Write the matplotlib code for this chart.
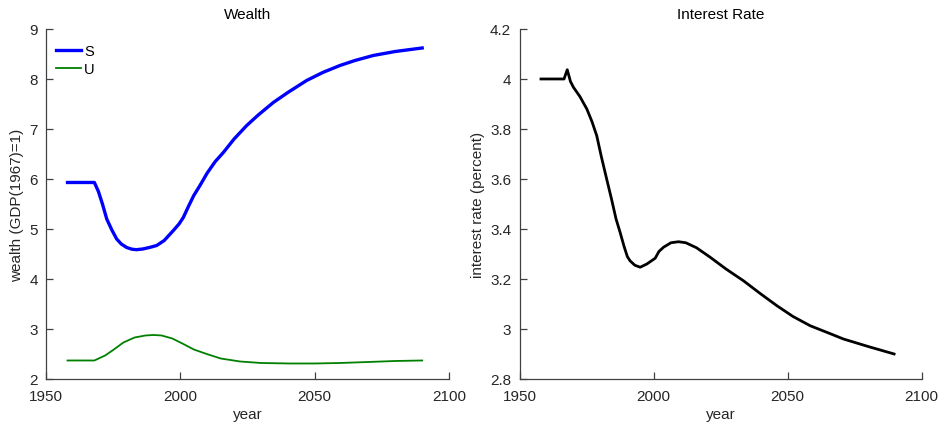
import matplotlib
matplotlib.use('Agg')
import matplotlib.pyplot as plt

plt.rcParams['font.family'] = ['Liberation Sans', 'DejaVu Sans']
plt.rcParams['font.size'] = 11

# wealth, S and U
years_s = [1958, 1968, 1969.5, 1971, 1972.6, 1974.5, 1976.3, 1978, 1980, 1982, 1983.7, 1986,
           1988.5, 1991.2, 1994, 1997.4, 1999.5, 2001.1, 2003, 2005, 2007.3, 2010, 2013, 2016,
           2020, 2024.7, 2029, 2034.6, 2040, 2047, 2053, 2059.4, 2065, 2071.8, 2080, 2090]
wealth_s = [5.93, 5.93, 5.75, 5.5, 5.2, 4.98, 4.8, 4.7, 4.63, 4.595, 4.586, 4.6,
            4.63, 4.67, 4.77, 4.97, 5.1, 5.23, 5.45, 5.67, 5.87, 6.12, 6.35, 6.53,
            6.8, 7.07, 7.28, 7.53, 7.73, 7.97, 8.13, 8.27, 8.37, 8.47, 8.55, 8.62]

years_u = [1958, 1968, 1972, 1975, 1978.8, 1983, 1987, 1990, 1993, 1997, 2001.1, 2005, 2009.8,
           2015, 2022.2, 2030, 2040.8, 2050, 2059.4, 2070, 2080, 2090]
wealth_u = [2.37, 2.37, 2.47, 2.58, 2.73, 2.83, 2.87, 2.88, 2.87, 2.81, 2.70, 2.59, 2.50,
            2.41, 2.35, 2.32, 2.31, 2.31, 2.32, 2.34, 2.36, 2.37]

# interest rate (percent)
years_r = [1958, 1966.6, 1967.8, 1969, 1970.1, 1972.5, 1975.1, 1977, 1978.8, 1980.5, 1982.5,
           1984.3, 1986, 1987.5, 1989, 1990.2, 1991.2, 1993, 1995, 1997.5, 2000.6, 2002,
           2003.7, 2006.5, 2009.3, 2012, 2016, 2021.1, 2027, 2033.5, 2040, 2046, 2052, 2058.4,
           2065, 2070.8, 2080, 2089.7]
rate = [4.0, 4.0, 4.037, 3.99, 3.967, 3.93, 3.88, 3.83, 3.773, 3.69, 3.6,
        3.52, 3.44, 3.387, 3.33, 3.29, 3.273, 3.255, 3.247, 3.26, 3.283, 3.31,
        3.327, 3.345, 3.349, 3.345, 3.325, 3.287, 3.24, 3.193, 3.14, 3.093, 3.05, 3.013,
        2.985, 2.96, 2.93, 2.90]

fig = plt.figure(figsize=(9.41, 4.27), dpi=100)
ax1 = fig.add_axes([0.0489, 0.1101, 0.4283, 0.8197])
ax2 = fig.add_axes([0.5521, 0.1101, 0.4274, 0.8197])

axis_col = '#404040'

ax1.plot(years_s, wealth_s, color='#0000ff', lw=2.4, label='S')
ax1.plot(years_u, wealth_u, color='#008000', lw=1.3, label='U')
ax1.set_xlim(1950, 2100)
ax1.set_ylim(2, 9)
ax1.set_xticks([1950, 2000, 2050, 2100])
ax1.set_yticks(range(2, 10))
ax1.set_title('Wealth', fontsize=11, pad=8)
ax1.set_xlabel('year', labelpad=3)
ax1.set_ylabel('wealth (GDP(1967)=1)', labelpad=4)
ax1.legend(loc='upper left', frameon=False, handlelength=1.7, handletextpad=0.2,
           labelspacing=0.25, borderaxespad=0.3, fontsize=10.5, bbox_to_anchor=(0.0, 0.985))

ax2.plot(years_r, rate, color='black', lw=2.0)
ax2.set_xlim(1950, 2100)
ax2.set_ylim(2.8, 4.2)
ax2.set_xticks([1950, 2000, 2050, 2100])
ax2.set_yticks([2.8, 3.0, 3.2, 3.4, 3.6, 3.8, 4.0, 4.2])
ax2.set_yticklabels(['2.8', '3', '3.2', '3.4', '3.6', '3.8', '4', '4.2'])
ax2.set_title('Interest Rate', fontsize=11, pad=8)
ax2.set_xlabel('year', labelpad=3)
ax2.set_ylabel('interest rate (percent)', labelpad=4)

for ax in (ax1, ax2):
    ax.spines['top'].set_visible(False)
    ax.spines['right'].set_visible(False)
    for s in ('left', 'bottom'):
        ax.spines[s].set_color(axis_col)
        ax.spines[s].set_linewidth(0.9)
    ax.tick_params(direction='in', length=5, width=0.9, color=axis_col,
                   labelcolor='#262626', labelsize=11)
    ax.tick_params(axis='x', pad=7)
    ax.tick_params(axis='y', pad=6)
    ax.xaxis.label.set_color('#262626')
    ax.yaxis.label.set_color('#262626')

fig.savefig('out.png', dpi=100)
